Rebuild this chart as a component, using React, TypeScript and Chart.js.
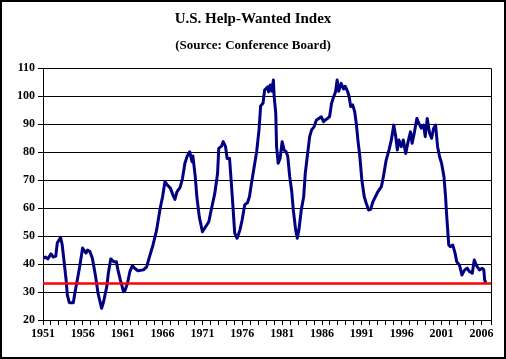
import React, { useEffect, useRef } from "react";
import { Chart, registerables } from "chart.js";
Chart.register(...registerables);

const titleText = "U.S. Help-Wanted Index";
const subtitleText = "(Source: Conference Board)";

const years = [
  1951.0, 1951.3, 1951.6, 1952.0, 1952.3, 1952.6, 1952.8, 1953.2, 1953.4, 1953.6,
  1953.9, 1954.05, 1954.3, 1954.8, 1955.0, 1955.3, 1955.6, 1955.97, 1956.4, 1956.6,
  1956.9, 1957.2, 1957.6, 1957.9, 1958.35, 1958.6, 1959.0, 1959.2, 1959.5, 1959.9,
  1960.2, 1960.4, 1960.7, 1961.1, 1961.3, 1961.6, 1961.9, 1962.2, 1962.5, 1962.9,
  1963.6, 1964.0, 1964.3, 1964.8, 1965.25, 1965.7, 1966.0, 1966.3, 1966.6, 1967.0,
  1967.3, 1967.55, 1967.8, 1968.2, 1968.5, 1968.8, 1969.1, 1969.4, 1969.7, 1969.8,
  1970.1, 1970.3, 1970.6, 1971.0, 1971.4, 1971.8, 1972.1, 1972.55, 1972.9, 1973.05,
  1973.4, 1973.6, 1973.9, 1974.1, 1974.4, 1974.6, 1974.8, 1975.05, 1975.35, 1975.7,
  1975.98, 1976.3, 1976.65, 1976.9, 1977.15, 1977.5, 1977.8, 1978.1, 1978.3, 1978.6,
  1978.8, 1979.2, 1979.3, 1979.5, 1979.7, 1979.9, 1980.0, 1980.2, 1980.3, 1980.5,
  1980.75, 1981.0, 1981.25, 1981.5, 1981.7, 1981.95, 1982.2, 1982.4, 1982.7, 1982.9,
  1983.1, 1983.4, 1983.7, 1983.9, 1984.2, 1984.45, 1984.7, 1985.0, 1985.3, 1985.6,
  1985.9, 1986.2, 1986.4, 1986.7, 1986.95, 1987.2, 1987.4, 1987.7, 1987.9, 1988.1,
  1988.4, 1988.7, 1988.9, 1989.2, 1989.4, 1989.6, 1989.85, 1990.1, 1990.3, 1990.5,
  1990.75, 1991.0, 1991.3, 1991.55, 1991.85, 1992.1, 1992.4, 1993.0, 1993.45, 1993.7,
  1994.05, 1994.4, 1994.7, 1995.0, 1995.25, 1995.45, 1995.65, 1995.95, 1996.2, 1996.5,
  1996.8, 1997.1, 1997.3, 1997.6, 1997.9, 1998.15, 1998.45, 1998.75, 1998.95, 1999.2,
  1999.5, 1999.75, 2000.0, 2000.25, 2000.5, 2000.75, 2001.0, 2001.3, 2001.5, 2001.65,
  2001.9, 2002.1, 2002.4, 2002.7, 2002.9, 2003.25, 2003.55, 2003.9, 2004.2, 2004.5,
  2004.85, 2005.1, 2005.4, 2005.75, 2006.1, 2006.3, 2006.4, 2006.55,
];

const helpWanted = [
  42, 42.5, 41.8, 43.6, 42.5, 42.8, 47.6, 49.5, 47, 42,
  34.3, 29, 26.2, 26.2, 29.6, 34.3, 39, 45.7, 43.9, 45,
  44.4, 42, 35.5, 29.6, 24.2, 26.5, 31.9, 36.8, 41.8, 40.8,
  40.8, 37.9, 34.3, 30.1, 30.6, 33.1, 37.3, 39.3, 38.5, 37.6,
  37.9, 39, 42, 46.8, 52.1, 59.9, 64, 69.4, 68.2, 67,
  64.6, 63.1, 65.8, 67.4, 70.6, 76, 78.6, 80.1, 76.5, 78.6,
  71.2, 64, 56.9, 51.5, 53.3, 55.1, 59.3, 65.2, 72.4, 81.3,
  82.1, 83.7, 81.9, 77.7, 77.7, 70, 61.7, 51, 49.2, 52.1,
  55.7, 61.1, 61.9, 64, 68.8, 74.8, 80.1, 87.9, 96.4, 97.4,
  102.1, 103.3, 101.5, 103.9, 101.7, 105.7, 99.8, 93.8, 81.9, 76,
  77.7, 83.7, 80.7, 80.1, 78.5, 71.2, 66, 59.3, 52.1, 49.2,
  52.1, 59.3, 64, 72.4, 79.5, 85.5, 87.9, 89, 91.4, 92,
  92.6, 90.8, 91.4, 92, 92.6, 97.4, 99.2, 101.5, 105.7, 101.7,
  104.5, 102.5, 103.5, 101.7, 99.8, 96.2, 96.8, 94.4, 90.2, 84.3,
  78.3, 70, 64, 61.7, 59.3, 59.5, 62.3, 65.8, 67.6, 71.2,
  77.1, 80.7, 84.3, 89.6, 85.5, 80.7, 84.3, 81.9, 84.3, 79.5,
  83.7, 87.2, 83.1, 87.2, 92, 90.2, 88.5, 89.6, 85.5, 92,
  86.7, 84.9, 88.5, 89.6, 81.9, 78.3, 76, 71.2, 64, 56.9,
  46.8, 46.2, 46.8, 43.8, 40.8, 39.6, 36.1, 37.9, 38.5, 37.3,
  36.7, 41.4, 39.3, 37.9, 38.5, 37.9, 34.3, 33.3,
];

const thresholdLevel = 33;
const xStart = 1951;
const xEnd = 2007.2;
const yMin = 20;
const yMax = 110;
const yStep = 10;
const labelEvery = 5;

const FONT = "'Liberation Serif', 'Times New Roman', serif";

export default function App() {
  const ref = useRef<HTMLCanvasElement>(null);

  useEffect(() => {
    document.body.style.margin = "0";
    const canvas = ref.current;
    if (!canvas) return;

    const framePlugin = {
      id: "framePlugin",
      beforeDraw(chart: any) {
        const { ctx, width, height } = chart;
        ctx.save();
        ctx.fillStyle = "#ffffff";
        ctx.fillRect(0, 0, width, height);
        ctx.restore();
      },
      afterDraw(chart: any) {
        const { ctx, width, height, chartArea: a } = chart;
        ctx.save();
        ctx.strokeStyle = "#000";
        ctx.lineWidth = 1;
        ctx.beginPath();
        ctx.moveTo(a.left, a.top + 0.5);
        ctx.lineTo(a.right + 0.5, a.top + 0.5);
        ctx.lineTo(a.right + 0.5, a.bottom);
        ctx.stroke();
        ctx.lineWidth = 2;
        ctx.strokeRect(1, 1, width - 2, height - 2);
        ctx.fillStyle = "#000";
        ctx.textAlign = "center";
        ctx.textBaseline = "middle";
        ctx.font = `bold 15px ${FONT}`;
        ctx.fillText(titleText, width / 2, 19);
        ctx.font = `bold 13px ${FONT}`;
        ctx.fillText(subtitleText, width / 2, 46);
        ctx.restore();
      },
    };

    const chart = new Chart(canvas, {
      type: "line",
      data: {
        datasets: [
          {
            data: [
              { x: xStart, y: thresholdLevel },
              { x: xEnd, y: thresholdLevel },
            ],
            borderColor: "#ff0000",
            borderWidth: 2.5,
            pointRadius: 0,
          },
          {
            data: years.map((x, i) => ({ x, y: helpWanted[i] })),
            borderColor: "#000080",
            borderWidth: 3,
            pointRadius: 0,
            tension: 0,
            borderJoinStyle: "round",
          },
        ],
      },
      options: {
        animation: false,
        responsive: false,
        events: [],
        layout: { padding: { top: 68, right: 15, bottom: 0, left: 0 } },
        plugins: { legend: { display: false }, tooltip: { enabled: false } },
        scales: {
          x: {
            type: "linear",
            min: xStart,
            max: xEnd,
            border: { color: "#000", width: 1 },
            grid: { drawOnChartArea: false, color: "#000", tickLength: 5 },
            ticks: {
              stepSize: 1,
              autoSkip: false,
              maxRotation: 0,
              color: "#000",
              padding: 2,
              font: { family: FONT, size: 12, weight: "bold" },
              callback: (v: any) => {
                const n = Number(v);
                if (Math.abs(n - Math.round(n)) > 1e-6) return "";
                return (Math.round(n) - xStart) % labelEvery === 0 ? String(Math.round(n)) : "";
              },
            },
            afterFit: (s: any) => {
              s.height = 39;
            },
          },
          y: {
            min: yMin,
            max: yMax,
            border: { color: "#000", width: 1 },
            grid: { color: "#000", tickLength: 5, lineWidth: 1 },
            ticks: {
              stepSize: yStep,
              color: "#000",
              padding: 3,
              font: { family: FONT, size: 12, weight: "bold" },
            },
            afterFit: (s: any) => {
              s.width = 43;
            },
          },
        },
      },
      plugins: [framePlugin],
    } as any);

    return () => chart.destroy();
  }, []);

  return (
    <div style={{ width: 506, height: 359 }}>
      <canvas ref={ref} width={506} height={359} style={{ display: "block" }} />
    </div>
  );
}
